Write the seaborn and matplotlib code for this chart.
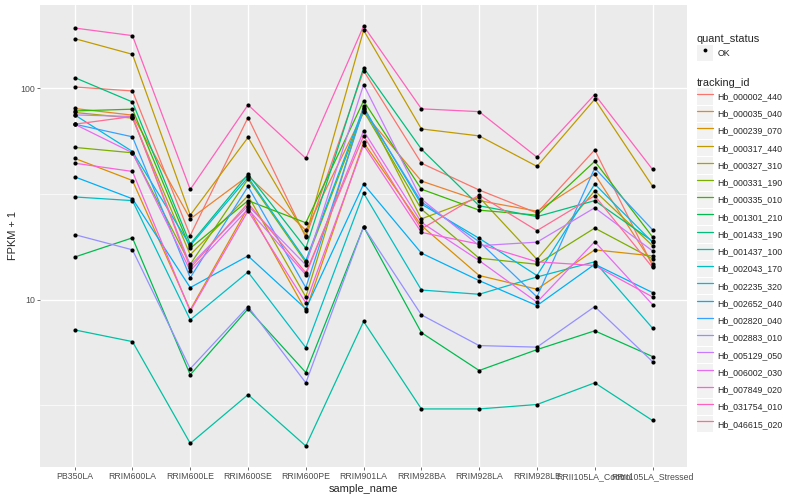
import numpy as np
import pandas as pd
import seaborn as sns
import matplotlib.pyplot as plt
from matplotlib.legend_handler import HandlerLine2D
from matplotlib.lines import Line2D
from matplotlib.patches import Rectangle
from matplotlib.ticker import FixedLocator, FuncFormatter, NullFormatter

sns.set_theme(style="darkgrid", rc={
    "axes.facecolor": "#EBEBEB",
    "grid.color": "white",
    "axes.edgecolor": "none",
})
plt.rcParams["font.family"] = ["Liberation Sans", "DejaVu Sans"]

samples = ["PB350LA", "RRIM600LA", "RRIM600LE", "RRIM600SE", "RRIM600PE",
           "RRIM901LA", "RRIM928BA", "RRIM928LA", "RRIM928LE",
           "RRII105LA_Control", "RRII105LA_Stressed"]

tracking_ids = ["Hb_000002_440", "Hb_000035_040", "Hb_000239_070", "Hb_000317_440",
                "Hb_000327_310", "Hb_000331_190", "Hb_000335_010", "Hb_001301_210",
                "Hb_001433_190", "Hb_001437_100", "Hb_002043_170", "Hb_002235_320",
                "Hb_002652_040", "Hb_002820_040", "Hb_002883_010", "Hb_005129_050",
                "Hb_006002_030", "Hb_007849_020", "Hb_031754_010", "Hb_046615_020"]

# ggplot hue palette, 20 levels
colors = ["#F8766D", "#EA8331", "#D89000", "#C09B00", "#A3A500", "#7CAE00",
          "#39B600", "#00BB4E", "#00BF7D", "#00C1A3", "#00BFC4", "#00BAE0",
          "#00B0F6", "#35A2FF", "#9590FF", "#C77CFF", "#E76BF3", "#FA62DB",
          "#FF62BC", "#FF6C91"]

# FPKM + 1, one value per sample (in the order of `samples`)
hb_000002_440 = [101.4, 97.1, 20.1, 72.7, 19.7, 121, 44.2, 33.0, 25.7, 51.1, 14.5]
hb_000035_040 = [80.2, 74.6, 24.1, 38.5, 21.3, 76.8, 36.4, 29.4, 26.2, 39.2, 14.8]
hb_000239_070 = [46.6, 36.6, 8.94, 27.3, 8.87, 55.4, 22.4, 13.0, 11.2, 17.2, 16.1]
hb_000317_440 = [171.7, 144.7, 25.1, 58.5, 20.1, 188, 64.2, 59.5, 42.7, 88.7, 34.4]
hb_000327_310 = [76.8, 72.2, 16.3, 31.0, 10.3, 82.5, 24.1, 30.5, 15.5, 32.7, 18.0]
hb_000331_190 = [52.5, 49.5, 14.7, 37.2, 15.0, 78.1, 26.8, 15.7, 14.7, 21.8, 15.6]
hb_000335_010 = [78.1, 79.6, 17.5, 29.4, 23.1, 87.1, 33.3, 26.5, 25.1, 45.1, 19.8]
hb_001301_210 = [15.9, 19.6, 4.41, 9.04, 4.52, 22.1, 6.98, 4.62, 5.80, 7.12, 5.38]
hb_001433_190 = [112.3, 86.1, 18.3, 39.2, 17.5, 125, 51.5, 27.8, 24.7, 29.4, 18.9]
hb_001437_100 = [7.19, 6.33, 2.09, 3.55, 2.03, 7.88, 3.04, 3.04, 3.19, 4.04, 2.68]
hb_002043_170 = [30.6, 29.4, 8.02, 13.5, 5.93, 31.9, 11.1, 10.6, 12.8, 15.1, 7.33]
hb_002235_320 = [74.8, 50.2, 18.0, 37.9, 15.3, 81.0, 28.3, 19.5, 13.0, 35.2, 18.7]
hb_002652_040 = [38.1, 30.0, 11.4, 16.1, 9.04, 35.2, 16.6, 12.3, 9.37, 14.7, 10.8]
hb_002820_040 = [67.6, 58.9, 12.7, 34.3, 11.4, 79.6, 29.0, 18.8, 10.3, 41.9, 21.4]
hb_002883_010 = [20.3, 17.2, 4.71, 9.27, 4.04, 22.1, 8.47, 6.06, 5.96, 9.27, 5.09]
hb_005129_050 = [74.8, 73.5, 14.5, 27.8, 14.6, 104, 29.9, 18.0, 18.7, 27.2, 17.0]
hb_006002_030 = [67.6, 49.5, 13.7, 26.8, 13.1, 62.9, 23.2, 15.3, 9.72, 18.8, 9.47]
hb_007849_020 = [44.2, 40.4, 8.81, 26.3, 9.65, 53.8, 20.8, 18.3, 15.1, 14.5, 10.3]
hb_031754_010 = [192.7, 177.4, 33.2, 83.4, 46.6, 197, 79.9, 77.5, 47.2, 93.4, 41.3]
hb_046615_020 = [67.6, 73.5, 14.1, 28.6, 13.4, 59.5, 21.6, 31.2, 21.2, 31.0, 14.2]

series = [hb_000002_440, hb_000035_040, hb_000239_070, hb_000317_440, hb_000327_310,
          hb_000331_190, hb_000335_010, hb_001301_210, hb_001433_190, hb_001437_100,
          hb_002043_170, hb_002235_320, hb_002652_040, hb_002820_040, hb_002883_010,
          hb_005129_050, hb_006002_030, hb_007849_020, hb_031754_010, hb_046615_020]

rows = []
for tid, vals in zip(tracking_ids, series):
    for s, v in zip(samples, vals):
        rows.append({"tracking_id": tid, "sample_name": s, "fpkm": v, "quant_status": "OK"})
df = pd.DataFrame(rows)
df["x"] = df["sample_name"].map({s: i for i, s in enumerate(samples)})

fig = plt.figure(figsize=(8, 5), dpi=100)
ax = fig.add_axes([0.05, 0.066, 0.809, 0.924])

palette = dict(zip(tracking_ids, colors))
sns.lineplot(data=df, x="x", y="fpkm", hue="tracking_id", palette=palette,
             hue_order=tracking_ids, estimator=None, sort=False, errorbar=None,
             linewidth=0.9, legend=False, ax=ax)
sns.scatterplot(data=df, x="x", y="fpkm", color="black", s=9, linewidth=0,
                marker="o", legend=False, ax=ax, zorder=3)

ax.set_yscale("log")
lo, hi = np.log10(df["fpkm"].min()), np.log10(df["fpkm"].max())
pad = 0.05 * (hi - lo)
ax.set_ylim(10 ** (lo - pad), 10 ** (hi + pad))
ax.set_xlim(-0.6, len(samples) - 0.4)

ax.yaxis.set_major_locator(FixedLocator([1, 10, 100, 1000]))
ax.yaxis.set_major_formatter(FuncFormatter(lambda v, p: f"{v:g}"))
ax.yaxis.set_minor_locator(FixedLocator([10 ** (k + 0.5) for k in range(-1, 4)]))
ax.yaxis.set_minor_formatter(NullFormatter())
ax.set_xticks(range(len(samples)))
ax.set_xticklabels(samples)

ax.grid(which="major", color="white", linewidth=1.0)
ax.grid(which="minor", color="white", linewidth=0.5)
ax.tick_params(axis="both", which="major", length=2.0, width=0.5, color="#333333",
               labelsize=6.3, labelcolor="#4D4D4D", pad=1.5, bottom=True, left=True)
ax.tick_params(axis="y", which="minor", length=0)
for sp in ax.spines.values():
    sp.set_visible(False)

ax.set_xlabel("sample_name", fontsize=7.9, labelpad=2)
ax.set_ylabel("FPKM + 1", fontsize=7.9, labelpad=2)


class KeyBox(HandlerLine2D):
    def create_artists(self, legend, orig_handle, xdescent, ydescent, width,
                       height, fontsize, trans):
        box = Rectangle((-xdescent, -ydescent), width, height,
                        facecolor="#F2F2F2", edgecolor="none", transform=trans)
        arts = super().create_artists(legend, orig_handle, xdescent, ydescent,
                                      width, height, fontsize, trans)
        return [box] + list(arts)


leg_kw = dict(frameon=False, fontsize=6.3, title_fontsize=7.9, handlelength=1.87,
              handleheight=2.5, labelspacing=0.1, handletextpad=0.5,
              borderpad=0, borderaxespad=0, alignment="left")

ok_handle = [Line2D([], [], linestyle="none", marker="o", markersize=2.8,
                    markerfacecolor="black", markeredgecolor="none")]
fig.legend(ok_handle, ["OK"], title="quant_status", loc="upper left",
           bbox_to_anchor=(0.871, 0.932), handler_map={Line2D: KeyBox()},
           **leg_kw)

id_handles = [Line2D([], [], color=c, linewidth=0.9) for c in colors]
fig.legend(id_handles, tracking_ids, title="tracking_id", loc="upper left",
           bbox_to_anchor=(0.871, 0.845), handler_map={Line2D: KeyBox()},
           **leg_kw)

fig.savefig("out.png", dpi=100)
